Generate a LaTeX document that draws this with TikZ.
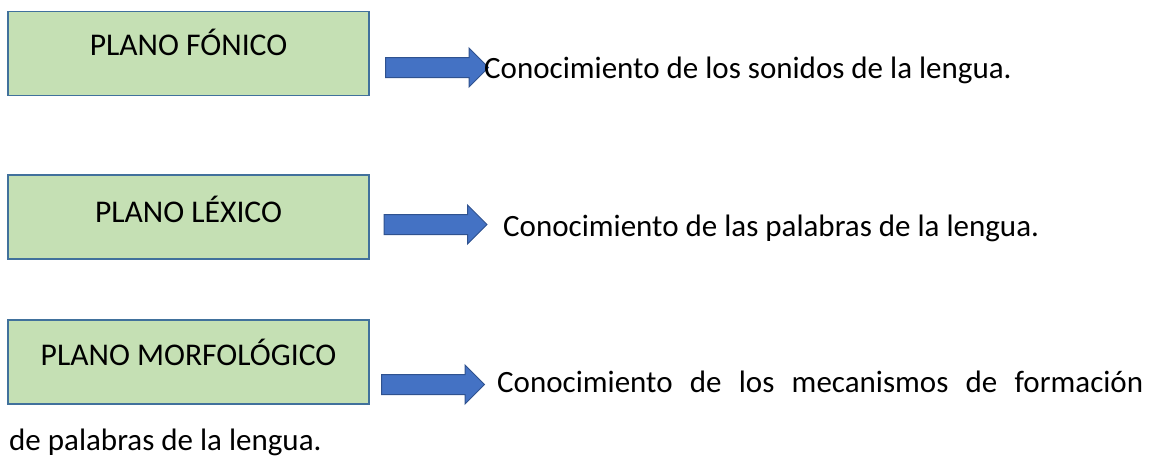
\documentclass[tikz,border=0pt]{standalone}
\usepackage{fontspec}
\setmainfont{Carlito}
\usetikzlibrary{shapes.arrows}

\tikzset{
  plano/.style={draw=planoBorde, line width=1.6pt, fill=planoVerde,
    minimum width=361pt, minimum height=84pt, inner sep=0pt},
  rotulo/.style={anchor=base, inner sep=0pt, font=\fontsize{31.6}{36}\selectfont},
  flecha/.style={single arrow, draw=flechaBorde, line width=1pt, fill=flechaAzul,
    minimum height=103pt, inner xsep=0pt, inner ysep=9.5pt,
    single arrow head extend=9.5pt},
  texto/.style={anchor=base west, inner sep=0pt}
}
\definecolor{planoVerde}{HTML}{C5E0B4}
\definecolor{planoBorde}{HTML}{41719C}
\definecolor{flechaAzul}{HTML}{4472C4}
\definecolor{flechaBorde}{HTML}{2F528F}

\begin{document}
\begin{tikzpicture}[x=1pt, y=-1pt, font=\fontsize{31}{36}\selectfont]
    \useasboundingbox (0,0) rectangle (1153,459);
    % Boxes
    \node[plano] (fonico) at (188.5,53.5) {};
    \node[plano] (lexico) at (188.5,217) {};
    \node[plano] (morfo)  at (188.5,362) {};
    % Labels
    \node[rotulo] (fonicoT) at (188.5,55)  {PLANO FÓNICO};
    \node[rotulo] (lexicoT) at (188.5,222) {PLANO LÉXICO};
    \node[rotulo] (morfoT)  at (188.5,365) {PLANO MORFOLÓGICO};
    % Arrows
    \node[flecha] (fonicoF) at (432,67.5)  {};
    \node[flecha] (lexicoF) at (430.5,224.5) {};
    \node[flecha] (morfoF)  at (428,384.5) {};
    % Texts
    \node[texto] (fonicoC) at (484,78)  {Conocimiento de los sonidos de la lengua.};
    \node[texto] (lexicoC) at (503,236) {Conocimiento de las palabras de la lengua.};
    \node[texto] (morfoC)  at (497,392) {\makebox[646pt][s]{Conocimiento de los mecanismos de formación}};
    \node[texto] (morfoD)  at (9,450)   {de palabras de la lengua.};
  \end{tikzpicture}
\end{document}
